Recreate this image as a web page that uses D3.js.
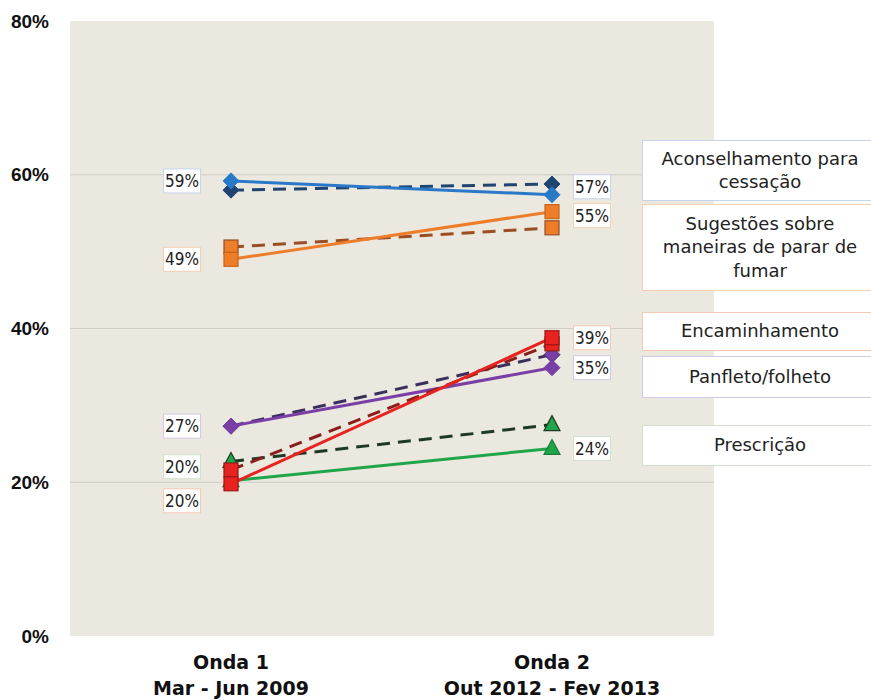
<!DOCTYPE html>
<html><head><meta charset="utf-8">
<script src="https://cdn.jsdelivr.net/npm/d3@7"></script>
<style>body{margin:0;background:#fff}svg{display:block}</style>
</head><body>
<svg id="c" width="871" height="700"></svg>
<script>
const waves = ["Onda 1", "Onda 2"];
const waveDates = ["Mar - Jun 2009", "Out 2012 - Fev 2013"];
const categories = ["Aconselhamento para cessação", "Sugestões sobre maneiras de parar de fumar", "Encaminhamento", "Panfleto/folheto", "Prescrição"];
const legendLines = [["Aconselhamento para", "cessação"], ["Sugestões sobre", "maneiras de parar de", "fumar"], ["Encaminhamento"], ["Panfleto/folheto"], ["Prescrição"]];
const solidValues = [[59.2, 57.4], [49.0, 55.2], [19.8, 38.8], [27.3, 34.9], [20.2, 24.4]];
const dashedValues = [[58.0, 58.8], [50.6, 53.1], [21.6, 38.0], [27.3, 36.6], [22.7, 27.5]];
const leftLabels = ["59%", "49%", "20%", "27%", "20%"];
const rightLabels = ["57%", "55%", "39%", "35%", "24%"];
const yTicks = [0, 20, 40, 60, 80];

const shapes = ["diamond", "square", "square", "diamond", "triangle"];
const solidColors = ["#2a78c8", "#ee7d2a", "#e8231f", "#7a3fa6", "#1fa64a"];
const solidStroke = ["#2a78c8", "#c8631a", "#a01515", "#7a3fa6", "#1a7a36"];
const dashColors = ["#1f4570", "#9a4e22", "#8a1e1a", "#3b2f5e", "#1e3a24"];
const dashFill = ["#1f4570", "#ee7d2a", "#e8231f", "#7a3fa6", "#1fa64a"];
const borderColors = ["#c8d4ec", "#f6cfb0", "#f6c8b4", "#d4c8ea", "#cfe0cc"];
// pixel nudges for value labels to avoid overlap
const leftNudge = [0, 0, 17, 0, -14];
const rightNudge = [-8, 4, 0, 0, 0];
const legendBoxes = [[140, 200], [204, 290], [312, 350], [356, 397], [425, 465]];

const svg = d3.select("#c");
const y = d3.scaleLinear().domain([0, 80]).range([636, 21]);
const x = d3.scalePoint().domain(waves).range([231, 552]);

svg.append("rect").attr("x", 70).attr("y", 21).attr("width", 644).attr("height", 615).attr("fill", "#ebe8e0");

svg.selectAll(".grid").data(yTicks.filter(d => d > 0 && d < 80)).join("line")
  .attr("x1", 70).attr("x2", 714).attr("y1", d => y(d)).attr("y2", d => y(d))
  .attr("stroke", "#cfccc4").attr("stroke-width", 1);

svg.selectAll(".ytick").data(yTicks).join("text")
  .attr("x", 49).attr("y", d => y(d)).attr("dy", "0.35em")
  .attr("text-anchor", "end").attr("font-family", "Liberation Sans, Arial, sans-serif")
  .attr("font-weight", "bold").attr("font-size", 19).attr("fill", "#111")
  .text(d => d + "%");

waves.forEach((w, i) => {
  const t = svg.append("text").attr("text-anchor", "middle")
    .attr("font-family", "DejaVu Sans, sans-serif").attr("font-weight", "bold")
    .attr("font-size", 19).attr("fill", "#111");
  t.append("tspan").attr("x", x(w)).attr("y", 669).text(w);
  t.append("tspan").attr("x", x(w)).attr("y", 695).text(waveDates[i]);
});

const line = d3.line().x((d, i) => x(waves[i])).y(d => y(d));

function marker(g, shape, cx, cy, fill, stroke) {
  if (shape === "diamond") {
    g.append("path").attr("d", `M${cx},${cy-8}L${cx+8},${cy}L${cx},${cy+8}L${cx-8},${cy}Z`)
      .attr("fill", fill).attr("stroke", stroke).attr("stroke-width", 1);
  } else if (shape === "square") {
    g.append("rect").attr("x", cx-7).attr("y", cy-7).attr("width", 14).attr("height", 14)
      .attr("fill", fill).attr("stroke", stroke).attr("stroke-width", 1.2);
  } else {
    g.append("path").attr("d", `M${cx},${cy-9}L${cx+8},${cy+6}L${cx-8},${cy+6}Z`)
      .attr("fill", fill).attr("stroke", stroke).attr("stroke-width", 1.2);
  }
}

const order = [4, 3, 2, 1, 0];
order.forEach(i => {
  const g = svg.append("g");
  g.append("path").attr("d", line(dashedValues[i])).attr("fill", "none")
    .attr("stroke", dashColors[i]).attr("stroke-width", 3).attr("stroke-dasharray", "13,8");
  g.append("path").attr("d", line(solidValues[i])).attr("fill", "none")
    .attr("stroke", solidColors[i]).attr("stroke-width", 3);
  dashedValues[i].forEach((v, j) => marker(g, shapes[i], x(waves[j]), y(v), dashFill[i], dashColors[i]));
  solidValues[i].forEach((v, j) => marker(g, shapes[i], x(waves[j]), y(v), solidColors[i], solidStroke[i]));
});

function valueLabel(cx, cy, txt, border) {
  const g = svg.append("g");
  g.append("rect").attr("x", cx - 18.5).attr("y", cy - 12).attr("width", 37).attr("height", 24)
    .attr("fill", "#fff").attr("stroke", border).attr("stroke-width", 1);
  g.append("text").attr("x", cx).attr("y", cy).attr("dy", "0.36em").attr("text-anchor", "middle")
    .attr("font-family", "DejaVu Sans Condensed, DejaVu Sans, sans-serif").attr("font-size", 17).attr("fill", "#222")
    .text(txt);
}
categories.forEach((c, i) => {
  valueLabel(182, y(solidValues[i][0]) + leftNudge[i], leftLabels[i], borderColors[i]);
  valueLabel(592, y(solidValues[i][1]) + rightNudge[i], rightLabels[i], borderColors[i]);
});

categories.forEach((c, i) => {
  const [y0, y1] = legendBoxes[i];
  svg.append("rect").attr("x", 642.5).attr("y", y0 + 0.5).attr("width", 240).attr("height", y1 - y0)
    .attr("fill", "#fff").attr("stroke", borderColors[i]).attr("stroke-width", 1);
  const lines = legendLines[i];
  const mid = (y0 + y1) / 2;
  const lh = 23.5;
  const t = svg.append("text").attr("text-anchor", "middle")
    .attr("font-family", "DejaVu Sans, sans-serif").attr("font-size", 18).attr("fill", "#222");
  lines.forEach((l, k) => {
    t.append("tspan").attr("x", 760).attr("y", mid + (k - (lines.length - 1) / 2) * lh).attr("dy", "0.35em").text(l);
  });
});
</script>
</body></html>
